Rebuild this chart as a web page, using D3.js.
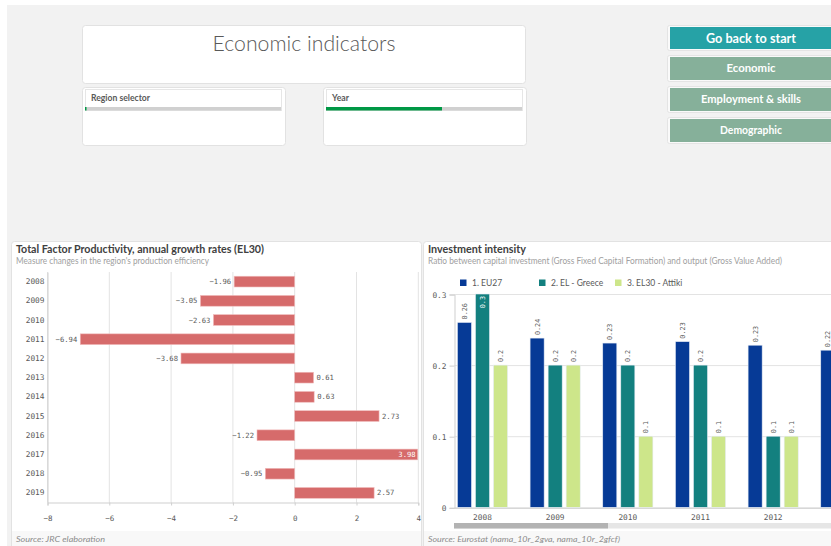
<!DOCTYPE html>
<html>
<head>
<meta charset="utf-8">
<title>Economic indicators</title>
<style>
  body { margin: 0; background: #fff; }
  svg { display: block; }
  text { font-family: Lato, "Noto Sans", sans-serif; }
  .mono { font-family: "DejaVu Sans Mono", monospace; }
</style>
</head>
<body>
<div id="page"></div>
<script src="https://d3js.org/d3.v7.min.js"></script>
<script>
// Total Factor Productivity, annual growth rates (EL30)
const tfpYears = [2008, 2009, 2010, 2011, 2012, 2013, 2014, 2015, 2016, 2017, 2018, 2019];
const tfpValues = [-1.96, -3.05, -2.63, -6.94, -3.68, 0.61, 0.63, 2.73, -1.22, 3.98, -0.95, 2.57];
const tfpTicks = [-8, -6, -4, -2, 0, 2, 4];

// Investment intensity
const invYears = [2008, 2009, 2010, 2011, 2012, 2013];
const invSeries = ["1. EU27", "2. EL - Greece", "3. EL30 - Attiki"];
const invEU27 = [0.26, 0.238, 0.231, 0.233, 0.228, 0.221];
const invGreece = [0.3, 0.2, 0.2, 0.2, 0.1, null];
const invAttiki = [0.2, 0.2, 0.1, 0.1, 0.1, null];
const invTicks = [0, 0.1, 0.2, 0.3];

const buttons = ["Go back to start", "Economic", "Employment & skills", "Demographic"];

const W = 831, H = 546;
const svg = d3.select("#page").append("svg").attr("width", W).attr("height", H);

// page background
svg.append("rect").attr("x", 7).attr("y", 5).attr("width", W - 7).attr("height", H - 5).attr("fill", "#f2f2f2");

function box(x, y, w, h, fill) {
  svg.append("rect").attr("x", x + 0.5).attr("y", y + 0.5).attr("width", w).attr("height", h)
    .attr("rx", 3).attr("fill", fill || "#fff").attr("stroke", "#e2e2e2");
}

// title box
box(82, 25, 443, 58);
svg.append("text").attr("x", 304).attr("y", 51).attr("text-anchor", "middle")
  .attr("font-size", 21).attr("font-weight", 300).attr("fill", "#595959")
  .attr("textLength", 183).attr("lengthAdjust", "spacingAndGlyphs")
  .text("Economic indicators");

// filter boxes
function filterBox(x, label, labelW, fillW) {
  box(x, 87, 203, 58);
  svg.append("rect").attr("x", x + 3.5).attr("y", 89.5).attr("width", 196).attr("height", 21)
    .attr("fill", "#fff").attr("stroke", "#e6e6e6");
  svg.append("text").attr("x", x + 9).attr("y", 101).attr("font-size", 8.5).attr("font-weight", 700)
    .attr("fill", "#595959").attr("textLength", labelW).attr("lengthAdjust", "spacingAndGlyphs").text(label);
  svg.append("rect").attr("x", x + 3).attr("y", 107).attr("width", 196).attr("height", 3.5).attr("fill", "#d0d0d0");
  svg.append("rect").attr("x", x + 3).attr("y", 107).attr("width", fillW).attr("height", 3.5).attr("fill", "#009845");
}
filterBox(82, "Region selector", 59, 1.5);
filterBox(323, "Year", 17, 116);

// navigation buttons
const btnY = [27, 57, 88, 119];
const btnH = [22, 23, 23, 23];
const btnW = [90, 49, 100, 62];
buttons.forEach((b, i) => {
  svg.append("rect").attr("x", 667.5).attr("y", btnY[i] - 1.5).attr("width", 170).attr("height", btnH[i] + 3)
    .attr("rx", 2).attr("fill", "#fafafa").attr("stroke", "#e4e4e4");
  svg.append("rect").attr("x", 670).attr("y", btnY[i]).attr("width", 165).attr("height", btnH[i])
    .attr("fill", i === 0 ? "#26a2a6" : "#86b09a");
  svg.append("text").attr("x", 751).attr("y", btnY[i] + btnH[i] / 2 + (i === 0 ? 4.6 : 3.8))
    .attr("text-anchor", "middle").attr("font-size", i === 0 ? 13 : 10.5).attr("font-weight", 700)
    .attr("fill", "#fff").attr("textLength", btnW[i]).attr("lengthAdjust", "spacingAndGlyphs").text(b);
});

// panels
function panel(x, w, title, titleW, sub, subW, source, sourceW) {
  svg.append("rect").attr("x", x + 0.5).attr("y", 241.5).attr("width", w).attr("height", 320)
    .attr("rx", 3).attr("fill", "#fff").attr("stroke", "#e2e2e2");
  svg.append("rect").attr("x", x + 1).attr("y", 531).attr("width", w - 1).attr("height", 15).attr("fill", "#f8f8f8");
  svg.append("text").attr("x", x + 5).attr("y", 252.5).attr("font-size", 11.5).attr("font-weight", 700)
    .attr("fill", "#404040").attr("textLength", titleW).attr("lengthAdjust", "spacingAndGlyphs").text(title);
  svg.append("text").attr("x", x + 5).attr("y", 263.5).attr("font-size", 8.5)
    .attr("fill", "#a0a0a0").attr("textLength", subW).attr("lengthAdjust", "spacingAndGlyphs").text(sub);
  svg.append("text").attr("x", x + 5).attr("y", 541.5).attr("font-size", 8.5).attr("font-style", "italic")
    .attr("fill", "#8c8c8c").attr("textLength", sourceW).attr("lengthAdjust", "spacingAndGlyphs").text(source);
}
panel(11, 410, "Total Factor Productivity, annual growth rates (EL30)", 248,
  "Measure changes in the region's production efficiency", 193, "Source: JRC elaboration", 89);
panel(423, 420, "Investment intensity", 98,
  "Ratio between capital investment (Gross Fixed Capital Formation) and output (Gross Value Added)", 354,
  "Source: Eurostat (nama_10r_2gva, nama_10r_2gfcf)", 192);

// ---------- left chart: horizontal bars ----------
const lx = d3.scaleLinear().domain([-8, 4]).range([47.5, 418.3]);
const ly = d3.scaleBand().domain(tfpYears).range([272, 502.5]).paddingInner(0.44).paddingOuter(0.22);
const left = svg.append("g");

left.append("g").selectAll("line").data(tfpTicks).join("line")
  .attr("x1", d => lx(d)).attr("x2", d => lx(d)).attr("y1", 272).attr("y2", 502.5)
  .attr("stroke", "#e3e3e3");

const lxAxis = left.append("g").attr("transform", "translate(0,502.5)")
  .call(d3.axisBottom(lx).tickValues(tfpTicks).tickSize(3).tickPadding(10).tickFormat(d3.format("d")));
lxAxis.select(".domain").attr("stroke", "#cfcfcf");
lxAxis.selectAll(".tick line").attr("stroke", "#cfcfcf");
lxAxis.selectAll("text").attr("class", "mono").attr("font-size", 7.5).attr("fill", "#595959");

const lyAxis = left.append("g").attr("transform", "translate(47.5,0)")
  .call(d3.axisLeft(ly).tickSize(0).tickPadding(3));
lyAxis.select(".domain").attr("stroke", "#cfcfcf");
lyAxis.selectAll("text").attr("class", "mono").attr("font-size", 7.8).attr("fill", "#595959");

const tfp = tfpYears.map((y, i) => ({ year: y, value: tfpValues[i] }));
left.append("g").selectAll("rect").data(tfp).join("rect")
  .attr("x", d => lx(Math.min(0, d.value)))
  .attr("y", d => ly(d.year))
  .attr("width", d => Math.abs(lx(d.value) - lx(0)))
  .attr("height", ly.bandwidth())
  .attr("fill", "#d66b6b").attr("stroke", "#f0bcbc").attr("stroke-width", 0.6);

const fmt2 = d3.format(".2f");
left.append("g").selectAll("text").data(tfp).join("text")
  .attr("class", "mono")
  .attr("font-size", 7.2)
  .attr("y", d => ly(d.year) + ly.bandwidth() / 2 + 2.6)
  .attr("x", d => d.value < 0 ? lx(d.value) - 3 : (lx(d.value) > 400 ? lx(d.value) - 2 : lx(d.value) + 3))
  .attr("text-anchor", d => d.value < 0 || lx(d.value) > 400 ? "end" : "start")
  .attr("fill", d => lx(d.value) > 400 ? "#fff" : "#595959")
  .text(d => fmt2(d.value));

// ---------- right chart: grouped bars ----------
const colors = ["#063a96", "#13807f", "#cde68a"];
const step = 72.67;
const rx0 = d3.scaleBand().domain(invYears)
  .range([454.5, 454.5 + step * (invYears.length - 0.31 + 0.08)])
  .paddingInner(0.31).paddingOuter(0.04);
const rx1 = d3.scaleBand().domain(invSeries).range([0, rx0.bandwidth()]).paddingInner(0.22);
const ry = d3.scaleLinear().domain([0, 0.3]).range([507.3, 294]);
const right = svg.append("g");

right.append("g").selectAll("line").data(invTicks).join("line")
  .attr("x1", 454.5).attr("x2", W).attr("y1", d => ry(d) + 0.5).attr("y2", d => ry(d) + 0.5)
  .attr("stroke", "#e3e3e3");

const ryAxis = right.append("g").attr("transform", "translate(454.5,0.5)")
  .call(d3.axisLeft(ry).tickValues(invTicks).tickSize(5).tickPadding(3).tickFormat(d3.format(".1~f")));
ryAxis.select(".domain").attr("stroke", "#cfcfcf");
ryAxis.selectAll(".tick line").attr("stroke", "#cfcfcf");
ryAxis.selectAll("text").attr("class", "mono").attr("font-size", 7.8).attr("fill", "#595959");

// year labels whose group lies beyond the visible scroll window are hidden
const rxAxis = right.append("g").attr("transform", "translate(0,507.8)")
  .call(d3.axisBottom(rx0).tickSize(0).tickPadding(7));
rxAxis.select(".domain").attr("stroke", "#cfcfcf");
rxAxis.selectAll("text").attr("class", "mono").attr("font-size", 7.8).attr("fill", "#595959");
rxAxis.selectAll(".tick").filter(d => rx0(d) + rx0.bandwidth() / 2 + 10 > W).remove();

const inv = [];
invYears.forEach((y, i) => {
  [invEU27[i], invGreece[i], invAttiki[i]].forEach((v, j) => {
    if (v != null) inv.push({ year: y, series: invSeries[j], value: v, color: colors[j] });
  });
});

right.append("g").selectAll("rect").data(inv).join("rect")
  .attr("x", d => rx0(d.year) + rx1(d.series))
  .attr("y", d => ry(d.value))
  .attr("width", rx1.bandwidth())
  .attr("height", d => ry(0) - ry(d.value))
  .attr("fill", d => d.color).attr("stroke", "#e6ecf5").attr("stroke-width", 0.6);

const fmtInv = d3.format(".2~f");
right.append("g").selectAll("text").data(inv).join("text")
  .attr("class", "mono")
  .attr("font-size", 6.8)
  .attr("transform", d => {
    const cx = rx0(d.year) + rx1(d.series) + rx1.bandwidth() / 2 + 2.4;
    const inside = d.value >= 0.29;
    const y = inside ? ry(d.value) + 2 : ry(d.value) - 3;
    return `translate(${cx},${y}) rotate(-90)`;
  })
  .attr("text-anchor", d => d.value >= 0.29 ? "end" : "start")
  .attr("fill", d => d.value >= 0.29 ? "#fff" : "#595959")
  .text(d => fmtInv(d.value));

// legend
const legX = [460, 539, 615];
invSeries.forEach((s, i) => {
  right.append("rect").attr("x", legX[i]).attr("y", 279.5).attr("width", 6.5).attr("height", 6.5).attr("fill", colors[i]);
  right.append("text").attr("x", legX[i] + 12).attr("y", 286).attr("font-size", 8.5).attr("fill", "#595959").text(s);
});

// scrollbar
right.append("rect").attr("x", 454).attr("y", 523).attr("width", W - 454).attr("height", 5.5).attr("fill", "#e6e6e6");
right.append("rect").attr("x", 454).attr("y", 523).attr("width", 154).attr("height", 5.5).attr("fill", "#b3b3b3");
</script>
</body>
</html>
